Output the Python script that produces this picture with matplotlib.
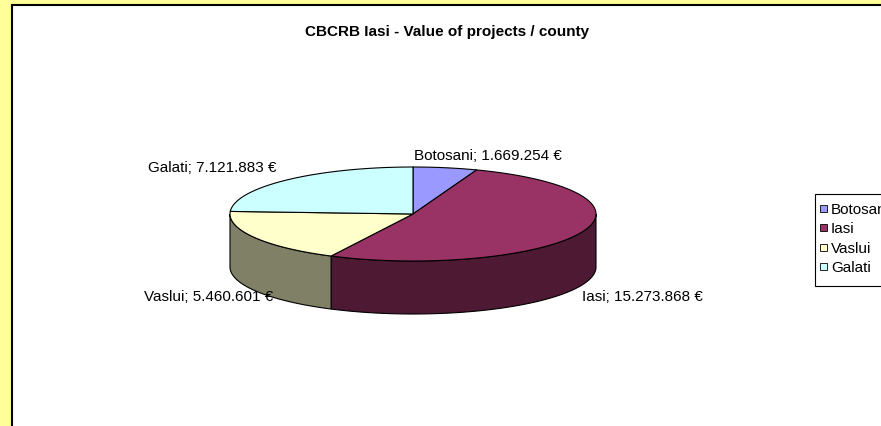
import numpy as np
import matplotlib
matplotlib.use("Agg")
import matplotlib.pyplot as plt
from matplotlib.patches import Polygon, Rectangle

plt.rcParams['font.family'] = ['Liberation Sans', 'DejaVu Sans']

# data
counties = ['Botosani', 'Iasi', 'Vaslui', 'Galati']
values = [1669254, 15273868, 5460601, 7121883]
top_colors = ['#9999FF', '#993366', '#FFFFCC', '#CCFFFF']
side_colors = ['#4D4D80', '#4D1933', '#808066', '#668080']
title = 'CBCRB Iasi - Value of projects / county'

def fmt(v):
    return '{:,}'.format(v).replace(',', '.') + ' €'

fig = plt.figure(figsize=(8.81, 4.27), dpi=100, facecolor='#FFFF99')
ax = fig.add_axes([0, 0, 1, 1])
ax.set_xlim(0, 881)
ax.set_ylim(427, 0)
ax.axis('off')

# chart area
ax.add_patch(Rectangle((12, 6), 900, 500, facecolor='white', edgecolor='black', lw=1.5, zorder=0))

# 3d pie geometry (pixels)
cx, cy, rx, ry, depth = 413, 215, 183, 47, 53

def ell(t):
    r = np.radians(t)
    return cx + rx * np.cos(r), cy - ry * np.sin(r)

total = sum(values)
start = 90.0
slices = []
for v in values:
    end = start - 360.0 * v / total
    slices.append((start, end))
    start = end

# side walls (front half only)
for (a, b), col in zip(slices, side_colors):
    hi, lo = min(a, 0.0), max(b, -180.0)
    if hi <= lo:
        continue
    t = np.linspace(hi, lo, 80)
    x, y = ell(t)
    pts = np.vstack([np.column_stack([x, y]), np.column_stack([x[::-1], y[::-1] + depth])])
    ax.add_patch(Polygon(pts, closed=True, facecolor=col, edgecolor='black', lw=0.8, zorder=1))

# top faces
for (a, b), col in zip(slices, top_colors):
    t = np.linspace(a, b, 120)
    x, y = ell(t)
    pts = np.vstack([[cx, cy], np.column_stack([x, y])])
    ax.add_patch(Polygon(pts, closed=True, facecolor=col, edgecolor='black', lw=0.8, zorder=2))

# labels
label_pos = [(414, 156, 'left'), (582, 297, 'left'), (273, 297, 'right'), (277, 168, 'right')]
for name, v, (lx, ly, ha) in zip(counties, values, label_pos):
    ax.text(lx, ly, f'{name}; {fmt(v)}', ha=ha, va='center', fontsize=11, zorder=3)

ax.text(447, 32, title, ha='center', va='center', fontsize=11, fontweight='bold')

# legend (clipped at the right edge like the original)
ax.add_patch(Rectangle((815, 195), 120, 92, facecolor='white', edgecolor='black', lw=0.8, zorder=3))
for i, (name, col) in enumerate(zip(counties, top_colors)):
    yy = 210 + i * 19.3
    ax.add_patch(Rectangle((820, yy - 4), 7, 7, facecolor=col, edgecolor='black', lw=0.6, zorder=4))
    ax.text(831, yy, name, ha='left', va='center', fontsize=11, zorder=4)

fig.savefig('out.png', dpi=100, facecolor=fig.get_facecolor())
